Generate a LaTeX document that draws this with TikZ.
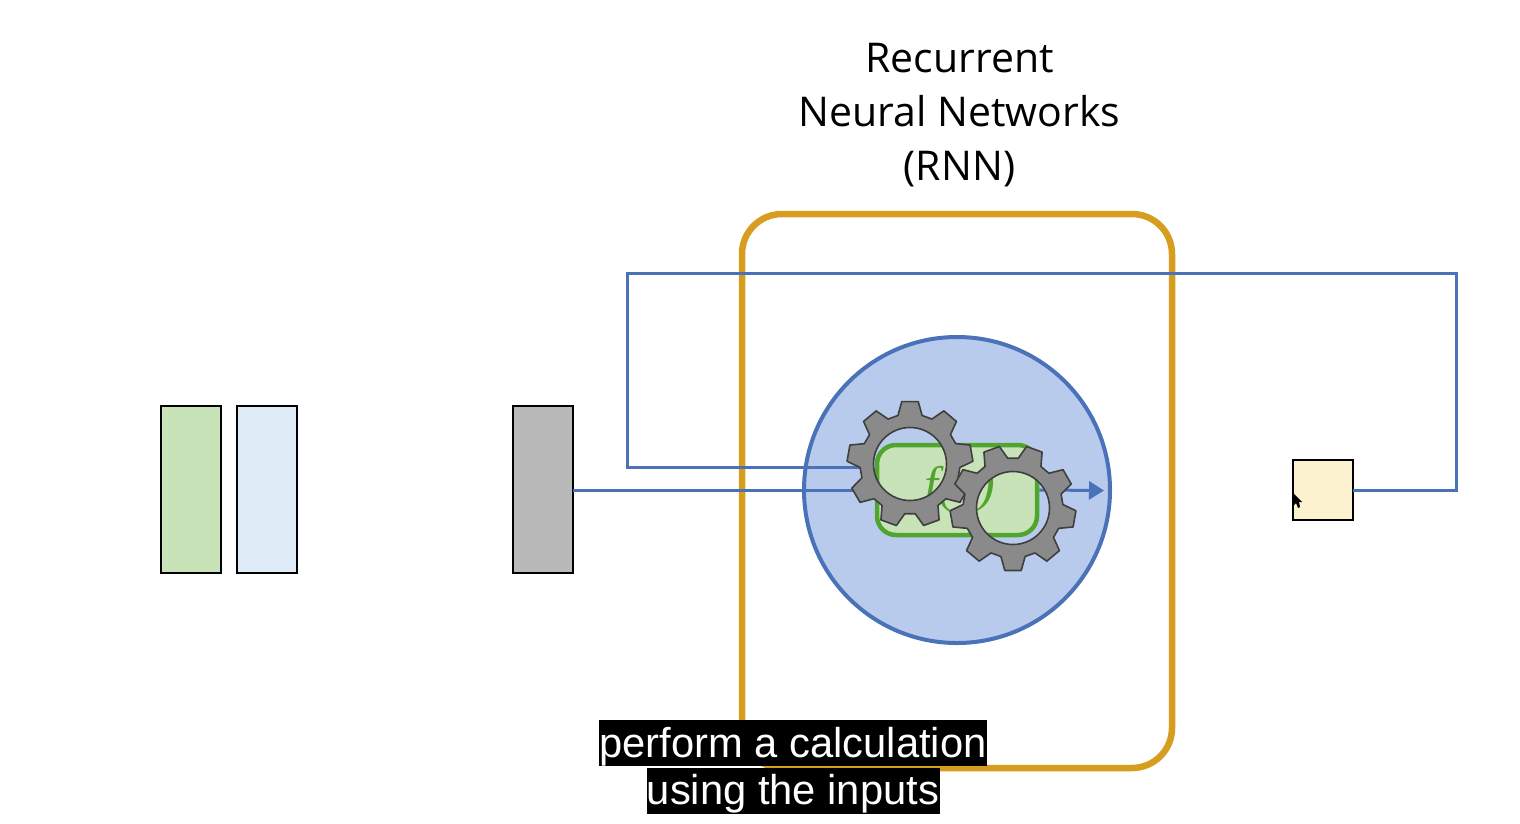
\documentclass[tikz,border=0pt]{standalone}
\usepackage{fontspec}
\setmainfont{Open Sans}
\newfontfamily\capfont{Liberation Sans}
\newfontfamily\mathlike{Liberation Serif}
\usetikzlibrary{arrows.meta,calc}
\definecolor{lineblue}{HTML}{4A72B8}
\definecolor{circfill}{HTML}{B9CBEC}
\definecolor{fgreen}{HTML}{4FA52E}
\definecolor{gfill}{HTML}{C9E3B9}
\definecolor{lblue}{HTML}{DEEBF7}
\definecolor{greybox}{HTML}{B9B9B9}
\definecolor{cream}{HTML}{FDF2D0}
\definecolor{gold}{HTML}{D69D1F}
\definecolor{gearfill}{HTML}{8A8A8A}
\definecolor{gearline}{HTML}{3F3F3F}
\tikzset{
  databox/.style={draw=black,line width=2pt,minimum width=60pt,inner sep=0pt,outer sep=0pt},
  link/.style={draw=lineblue,line width=3pt},
  arrowlink/.style={link,-{Triangle[length=15pt,width=18pt]}},
  gearshape/.style={fill=gearfill,draw=gearline,line width=1.6pt,even odd rule,line join=round},
  caption/.style={fill=black,text=white,inner sep=0pt,font=\capfont\fontsize{41.7}{41.7}\selectfont,text height=37pt,text depth=9pt,minimum width=#1},
}
\newcommand{\mygear}[3]{% cx, cy, rotation
  \path[gearshape] ($(#1,#2)+(#3-14:50)$)
    \foreach \k in {0,...,8}{
      -- ($(#1,#2)+(#3+\k*40-14:50)$)
      -- ($(#1,#2)+(#3+\k*40-7.5:63)$)
      -- ($(#1,#2)+(#3+\k*40+7.5:63)$)
      -- ($(#1,#2)+(#3+\k*40+14:50)$)
      -- ($(#1,#2)+(#3+\k*40+26:50)$)
    } -- cycle
    (#1,#2) circle[radius=36.5];
}
\begin{document}
\begin{tikzpicture}[x=1pt,y=-1pt]
\useasboundingbox (0,0) rectangle (1520,823);
\fill[white] (0,0) rectangle (1520,823);
% boxes
\node[databox,fill=gfill,minimum height=167pt] (g) at (191,489.5) {};
\node[databox,fill=lblue,minimum height=167pt] (b) at (267,489.5) {};
\node[databox,fill=greybox,minimum height=167pt] (input) at (543,489.5) {};
\node[databox,fill=cream,minimum height=60pt] (output) at (1323,490) {};
% title
\node[align=center,font=\fontsize{41}{54}\selectfont,inner sep=0pt] (title) at (959.5,115) {Recurrent\\Neural Networks\\(RNN)};
% RNN frame
\node[draw=gold,line width=6.5pt,rounded corners=40pt,minimum width=430pt,minimum height=554pt,inner sep=0pt] (frame) at (957,491) {};
% circle
\node[circle,draw=lineblue,fill=circfill,line width=4pt,minimum size=306pt,inner sep=0pt] (cell) at (957,490) {};
% function
\node[draw=fgreen,fill=gfill,line width=4.5pt,rounded corners=19pt,minimum width=160pt,minimum height=90pt,inner sep=0pt] (func) at (957,490) {};
\node[text=fgreen,font=\mathlike\fontsize{50}{50}\selectfont\itshape,inner sep=0pt] (ftext) at (960,489) {f(\hspace{24pt})};
% connectors
\coordinate (loopin) at (863,467);
\coordinate (out) at (1104,490.5);
\coordinate (c1) at (1456,490);
\coordinate (c2) at (1456,273);
\coordinate (c3) at (627,273);
\coordinate (c4) at (627,467);
\draw[link] (input.east |- func.west) -- (func.west);
\draw[link] (output.east) -- (c1) -- (c2) -- (c3) -- (c4) -- (loopin);
\fill[lineblue] (loopin)++(-3,-6) -- ++(6,6) -- ++(-6,6) -- cycle;
\draw[arrowlink] (func.east) -- (out);
% gears
\mygear{910}{464}{-90}
\mygear{1013}{508}{90}
% cursor
\fill[black] (1293,493) -- (1293,506) -- (1296,503) -- (1298,508) -- (1300,507) -- (1299,502) -- (1302,502) -- cycle;
% captions
\node[caption=388pt] (cap1) at (793,743) {perform a calculation};
\node[caption=293pt] (cap2) at (793,790.5) {using the inputs};
\end{tikzpicture}
\end{document}
